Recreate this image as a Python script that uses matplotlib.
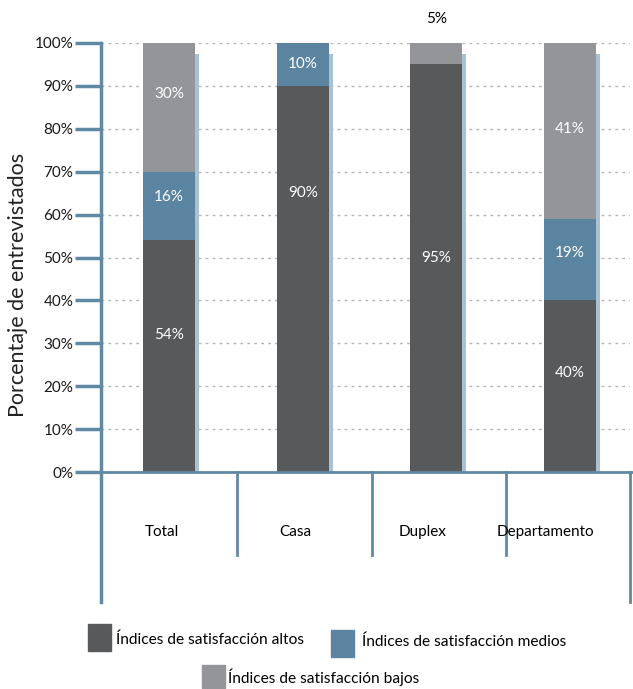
import numpy as np
import matplotlib.pyplot as plt
from matplotlib.patches import Rectangle
from matplotlib.lines import Line2D

categorias = ['Total', 'Casa', 'Duplex', 'Departamento']
altos = [54, 90, 95, 40]
medios = [16, 10, 0, 19]
bajos = [30, 0, 5, 41]
series = ['Índices de satisfacción altos', 'Índices de satisfacción medios',
          'Índices de satisfacción bajos']

c_alto = '#58595b'
c_medio = '#5b84a0'
c_bajo = '#939598'
c_eje = '#6089a4'
c_sombra = '#a9c1d0'

plt.rcParams['font.family'] = ['Lato', 'DejaVu Sans']

W, H = 633, 689
fig = plt.figure(figsize=(W / 100, H / 100), dpi=100)
ax = fig.add_axes([101 / W, 1 - 472 / H, 529 / W, 429 / H])

x = np.arange(len(categorias))
w = 0.39
# sombra clara a la derecha de cada barra
ax.bar(x + w / 2 + 0.015, 97.5, width=0.03, color=c_sombra, zorder=1)
ax.bar(x, altos, width=w, color=c_alto, zorder=2)
ax.bar(x, medios, width=w, bottom=altos, color=c_medio, zorder=2)
base = np.array(altos) + np.array(medios)
ax.bar(x, bajos, width=w, bottom=base, color=c_bajo, zorder=2)

# etiquetas dentro de las barras (posicion vertical estimada)
etq = [(0, 54, 32), (0, 16, 64), (0, 30, 88),
       (1, 90, 65), (1, 10, 95),
       (2, 95, 50),
       (3, 40, 23), (3, 19, 51), (3, 41, 80)]
for i, v, yy in etq:
    ax.text(x[i], yy, f'{v}%', color='white', ha='center', va='center',
            fontsize=11, zorder=3)
ax.text(x[2], 105.5, f'{bajos[2]}%', color='black', ha='center', va='center',
        fontsize=11, clip_on=False)

ax.set_xlim(-0.51, 3.45)
ax.set_ylim(0, 100)
ax.set_yticks(np.arange(0, 101, 10))
ax.set_yticklabels([f'{t}%' for t in range(0, 101, 10)], fontsize=11,
                   color='#1a1a1a')
ax.set_xticks([])
ax.tick_params(axis='y', length=19, width=2.5, color=c_eje, pad=1)
ax.yaxis.grid(True, linestyle=(0, (2, 3)), color='#b5b5b5', linewidth=1)
ax.set_axisbelow(True)
for s in ['top', 'right', 'bottom', 'left']:
    ax.spines[s].set_visible(False)
fig.text(18 / W, 1 - 285 / H, 'Porcentaje de entrevistados', rotation=90,
         ha='center', va='center', fontsize=15.5, color='#222222')

# lineas del eje y divisiones de categorias
fig.add_artist(Line2D([101 / W, 101 / W], [1 - 43 / H, 1 - 602 / H],
                      color=c_eje, linewidth=2.5))
fig.add_artist(Line2D([82 / W, 1.0], [1 - 472 / H, 1 - 472 / H],
                      color=c_eje, linewidth=2))
for px in [237, 372, 506]:
    fig.add_artist(Line2D([px / W, px / W], [1 - 472 / H, 1 - 555 / H],
                          color=c_eje, linewidth=2))
fig.add_artist(Line2D([630 / W, 630 / W], [1 - 472 / H, 1 - 602 / H],
                      color=c_eje, linewidth=2))
for px, c in zip([162, 295, 423, 545], categorias):
    fig.text(px / W, 1 - 532 / H, c, ha='center', va='center', fontsize=11)

# leyenda manual
leg = [(88, 624, 27, c_alto, series[0], 116, 640),
       (331, 630, 27, c_medio, series[1], 362, 642),
       (202, 665, 23, c_bajo, series[2], 228, 677)]
for px, py, hh, col, txt, tx, ty in leg:
    fig.add_artist(Rectangle((px / W, 1 - (py + hh) / H), 23 / W, hh / H,
                             color=col, transform=fig.transFigure))
    fig.text(tx / W, 1 - ty / H, txt, ha='left', va='center', fontsize=11.2)

fig.savefig('out.png', dpi=100)
